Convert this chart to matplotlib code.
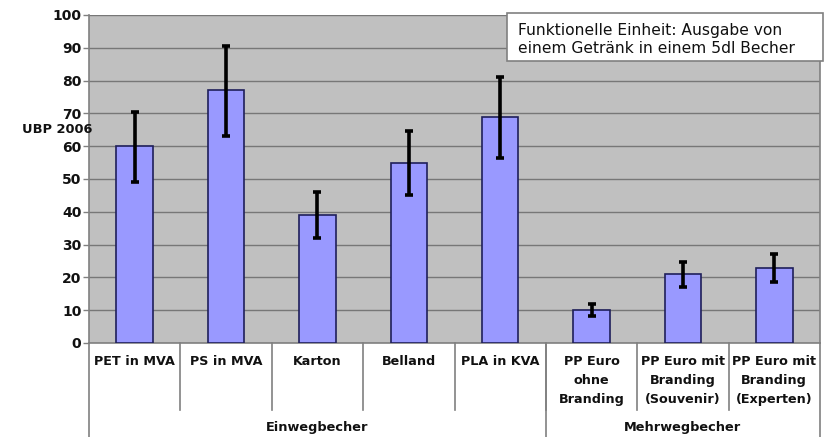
import matplotlib
matplotlib.use("Agg")
import matplotlib.pyplot as plt
from matplotlib.transforms import blended_transform_factory
from matplotlib.patches import Rectangle

categories = ["PET in MVA", "PS in MVA", "Karton", "Belland", "PLA in KVA",
              "PP Euro\nohne\nBranding", "PP Euro mit\nBranding\n(Souvenir)",
              "PP Euro mit\nBranding\n(Experten)"]
values = [60, 77, 39, 55, 69, 10, 21, 23]
err_low = [49, 63, 32, 45, 56.5, 8.2, 17.1, 18.6]
err_high = [70.5, 90.5, 46, 64.7, 81.2, 11.8, 24.6, 27]
groups = ["Einwegbecher", "Mehrwegbecher"]
group_sizes = [5, 3]
yticks = [0, 10, 20, 30, 40, 50, 60, 70, 80, 90, 100]
ylabel = "UBP 2006"
note = "Funktionelle Einheit: Ausgabe von\neinem Getränk in einem 5dl Becher"

plt.rcParams['font.family'] = ['DejaVu Sans']

W, H = 828, 437
fig = plt.figure(figsize=(W / 100, H / 100), dpi=100)
fig.patch.set_facecolor("white")
L, R, T, B = 89, 820, 15, 343
ax = fig.add_axes([L / W, 1 - B / H, (R - L) / W, (B - T) / H])
ax.set_facecolor("#C0C0C0")

x = list(range(len(categories)))
yerr = [[v - lo for v, lo in zip(values, err_low)],
        [hi - v for v, hi in zip(values, err_high)]]
ax.bar(x, values, width=0.4, color="#9999FF", edgecolor="#1F1F5A", linewidth=1.2, zorder=3)
ax.errorbar(x, values, yerr=yerr, fmt="none", ecolor="black", elinewidth=2.6,
            capsize=3, capthick=2.6, zorder=4)

ax.set_xlim(-0.5, len(categories) - 0.5)
ax.set_ylim(0, 100)
ax.set_yticks(yticks)
ax.set_yticklabels([str(t) for t in yticks], fontsize=10, fontweight="bold",
                   color="#111111")
ax.tick_params(axis="y", length=4, width=1, color="#808080", pad=1.5)
ax.set_xticks([])
ax.grid(axis="y", color="#777777", linewidth=1.0, zorder=1)
ax.spines["top"].set_visible(False)
for s in ["left", "bottom", "right"]:
    ax.spines[s].set_color("#808080")
    ax.spines[s].set_linewidth(1.2)

tr = blended_transform_factory(ax.transData, ax.transAxes)
ph = B - T
def ay(py):
    return (B - py) / ph

for i, c in enumerate(categories):
    ax.text(i, ay(355), c, transform=tr, ha="center", va="top", fontsize=9.2,
            fontweight="bold", color="#111111", linespacing=1.62)
for i in range(1, len(categories)):
    ax.plot([i - 0.5, i - 0.5], [0, ay(410)], transform=tr, color="#808080",
            lw=1.2, clip_on=False)
pos = -0.5
bounds = [pos]
for g in group_sizes:
    pos += g
    bounds.append(pos)
for b in bounds:
    ax.plot([b, b], [0, ay(437)], transform=tr, color="#808080", lw=1.2, clip_on=False)
for g, a, b in zip(groups, bounds[:-1], bounds[1:]):
    ax.text((a + b) / 2, ay(428), g, transform=tr, ha="center", va="center",
            fontsize=9.3, fontweight="bold", color="#111111")

fig.text(22 / W, 1 - 130 / H, ylabel, ha="left", va="center", fontsize=9.4,
         fontweight="bold", color="#111111")

fig.patches.append(Rectangle((507 / W, 1 - 61 / H), (823 - 507) / W, (61 - 13) / H,
                             transform=fig.transFigure, facecolor="white",
                             edgecolor="#808080", lw=1.2, zorder=5))
fig.text(518 / W, 1 - 39.5 / H, note, ha="left", va="center", fontsize=11.2,
         color="#111111", linespacing=1.32, zorder=6)

fig.savefig("out.png", dpi=100)
